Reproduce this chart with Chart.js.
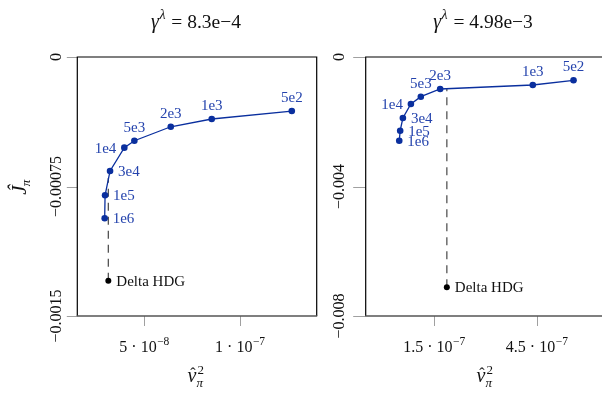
<!DOCTYPE html>
<html><head><meta charset="utf-8">
<script src="https://cdn.jsdelivr.net/npm/chart.js@4/dist/chart.umd.min.js"></script>
<style>
html,body{margin:0;padding:0;width:602px;height:396px;overflow:hidden;background:#fff}
canvas{position:absolute;left:0;top:0}
</style></head><body>
<canvas id="c1" width="602" height="396"></canvas>
<canvas id="c2" width="700" height="396"></canvas>
<script>
// ---- data ----
const runLabels = ['5e2','1e3','2e3','5e3','1e4','3e4','1e5','1e6'];

const leftTitleValue = '8.3e\u22124';
const leftX = [1.270e-7, 8.52e-8, 6.38e-8, 4.48e-8, 3.955e-8, 3.21e-8, 2.95e-8, 2.93e-8];
const leftY = [-3.13e-4, -3.59e-4, -4.04e-4, -4.85e-4, -5.25e-4, -6.60e-4, -8.01e-4, -9.34e-4];
const leftDelta = [3.12e-8, -1.296e-3];
const leftDashTop = -7.01e-4;
const leftYTicks = [0, -0.00075, -0.0015];
const leftYTickLabels = ['0', '\u22120.00075', '\u22120.0015'];
const leftXTicks = [5e-8, 1e-7];
const leftXTickLabels = [['5', '\u22128'], ['1', '\u22127']];

const rightTitleValue = '4.98e\u22123';
const rightX = [5.57e-7, 4.38e-7, 1.675e-7, 1.11e-7, 0.82e-7, 0.586e-7, 0.507e-7, 0.48e-7];
const rightY = [-7.20e-4, -8.65e-4, -9.88e-4, -1.226e-3, -1.452e-3, -1.884e-3, -2.276e-3, -2.585e-3];
const rightDelta = [1.87e-7, -7.113e-3];
const rightDashTop = -9.79e-4;
const rightYTicks = [0, -0.004, -0.008];
const rightYTickLabels = ['0', '\u22120.004', '\u22120.008'];
const rightXTicks = [1.5e-7, 4.5e-7];
const rightXTickLabels = [['1.5', '\u22127'], ['4.5', '\u22127']];

// ---- styles ----
const BLUE = '#0a2f9e';
const LBLUE = '#2443ad';
const SERIF = '"Liberation Serif", "DejaVu Serif", serif';
const leftPlace = ['above','above','above','above','left','right','right','right'];
const rightPlace = ['above','above','above','above','left','right','right','right'];

function drawParts(ctx, parts, x, y) {
  let w = 0;
  parts.forEach(p => { ctx.font = p.f; p.w = ctx.measureText(p.t).width; w += p.w + (p.dx || 0); });
  let cx = x - w / 2;
  ctx.textAlign = 'left';
  parts.forEach(p => { ctx.font = p.f; cx += (p.dx || 0); ctx.fillText(p.t, cx, y + (p.dy || 0)); cx += p.w; });
}

function makeChart(id, canvasW, cfg) {
  const pts = cfg.xs.map((x, i) => ({x: x, y: cfg.ys[i]}));
  const decor = {
    id: 'decor' + id,
    beforeDatasetsDraw(chart) {
      const ctx = chart.ctx, a = chart.chartArea, sx = chart.scales.x, sy = chart.scales.y;
      ctx.save();
      // ticks
      ctx.strokeStyle = '#a0a0a0'; ctx.lineWidth = 1;
      cfg.yTicks.forEach(v => {
        const py = Math.round(sy.getPixelForValue(v)) + 0.5;
        ctx.beginPath(); ctx.moveTo(a.left - cfg.tickLen, py); ctx.lineTo(a.left, py); ctx.stroke();
      });
      cfg.xTicks.forEach(v => {
        const px = Math.round(sx.getPixelForValue(v)) + 0.5;
        ctx.beginPath(); ctx.moveTo(px, a.bottom); ctx.lineTo(px, a.bottom + 10); ctx.stroke();
      });
      // frame
      ctx.strokeStyle = '#000'; ctx.lineWidth = 1.2;
      ctx.beginPath();
      ctx.moveTo(a.left, a.bottom); ctx.lineTo(a.left, a.top); ctx.lineTo(a.right, a.top); ctx.lineTo(a.right, a.bottom);
      ctx.stroke();
      ctx.strokeStyle = '#555'; ctx.lineWidth = 1.6;
      ctx.beginPath(); ctx.moveTo(a.left - 0.5, a.bottom); ctx.lineTo(a.right + 0.5, a.bottom); ctx.stroke();
      // y tick labels (rotated)
      ctx.fillStyle = '#111';
      ctx.font = '16px ' + SERIF;
      cfg.yTicks.forEach((v, i) => {
        const py = sy.getPixelForValue(v);
        ctx.save();
        ctx.translate(cfg.yLabelBase, py);
        ctx.rotate(-Math.PI / 2);
        ctx.textAlign = 'center'; ctx.textBaseline = 'alphabetic';
        ctx.fillText(cfg.yTickLabels[i], 0, 0);
        ctx.restore();
      });
      // x tick labels
      ctx.textBaseline = 'alphabetic';
      cfg.xTicks.forEach((v, i) => {
        const px = sx.getPixelForValue(v);
        const lab = cfg.xTickLabels[i];
        drawParts(ctx, [
          {t: lab[0] + ' \u00b7 10', f: '16px ' + SERIF},
          {t: lab[1], f: '11.5px ' + SERIF, dy: -7, dx: 0.5}
        ], px, 351.5);
      });
      // title
      drawParts(ctx, [
        {t: '\u03b3', f: 'italic 20px ' + SERIF},
        {t: '\u03bb', f: 'italic 14px ' + SERIF, dy: -9, dx: 0.5},
        {t: ' = ' + cfg.title, f: '19.5px ' + SERIF, dx: 1}
      ], cfg.titleX, 28);
      // x axis title: v-hat squared, sub pi
      {
        const cx = cfg.xTitleX, by = 381.5;
        ctx.font = 'italic 20px ' + SERIF;
        const vw = ctx.measureText('v').width;
        const x0 = cx - (vw + 8) / 2;
        ctx.textAlign = 'left';
        ctx.fillText('v', x0, by);
        ctx.font = '16px ' + SERIF;
        ctx.textAlign = 'center';
        ctx.fillText('\u02c6', x0 + vw / 2 + 1, by - 3);
        ctx.textAlign = 'left';
        ctx.font = '13px ' + SERIF;
        ctx.fillText('2', x0 + vw + 1, by - 8);
        ctx.font = 'italic 13px ' + SERIF;
        ctx.fillText('\u03c0', x0 + vw, by + 5);
      }
      // y axis title (only left)
      if (cfg.yTitle) {
        ctx.save();
        ctx.translate(26, 186);
        ctx.rotate(-Math.PI / 2);
        ctx.font = 'italic 21px ' + SERIF;
        const jw = ctx.measureText('\u0134').width;
        const x0 = -(jw + 8) / 2;
        ctx.textAlign = 'left';
        ctx.fillText('\u0134', x0, 0);
        ctx.font = 'italic 13px ' + SERIF;
        ctx.fillText('\u03c0', x0 + jw - 1, 4);
        ctx.restore();
      }
      ctx.restore();
    },
    afterDatasetsDraw(chart) {
      const ctx = chart.ctx, sx = chart.scales.x, sy = chart.scales.y;
      ctx.save();
      ctx.font = '15px ' + SERIF;
      ctx.fillStyle = LBLUE;
      cfg.xs.forEach((x, i) => {
        const px = sx.getPixelForValue(x), py = sy.getPixelForValue(cfg.ys[i]);
        const pl = cfg.place[i];
        if (pl === 'above') { ctx.textAlign = 'center'; ctx.textBaseline = 'alphabetic'; ctx.fillText(runLabels[i], px, py - 9); }
        else if (pl === 'left') { ctx.textAlign = 'right'; ctx.textBaseline = 'middle'; ctx.fillText(runLabels[i], px - 8, py + 1); }
        else { ctx.textAlign = 'left'; ctx.textBaseline = 'middle'; ctx.fillText(runLabels[i], px + 8, py + 1); }
      });
      ctx.fillStyle = '#111';
      ctx.textAlign = 'left'; ctx.textBaseline = 'middle';
      ctx.fillText('Delta HDG', sx.getPixelForValue(cfg.delta[0]) + 8, sy.getPixelForValue(cfg.delta[1]) + 1);
      ctx.restore();
    }
  };
  return new Chart(document.getElementById(id), {
    type: 'scatter',
    data: {datasets: [
      {data: pts, showLine: true, borderColor: BLUE, backgroundColor: BLUE, pointBorderColor: BLUE,
       pointBackgroundColor: BLUE, pointRadius: 3.3, pointBorderWidth: 0, borderWidth: 1.3, tension: 0},
      {data: [{x: cfg.delta[0], y: cfg.delta[1]}, {x: cfg.delta[0], y: cfg.dashTop}], showLine: true,
       borderColor: '#555', borderDash: [8, 6], borderWidth: 1.3, pointRadius: [3, 0], pointBorderWidth: 0,
       pointBackgroundColor: '#000', backgroundColor: '#000'}
    ]},
    options: {
      responsive: false, animation: false, devicePixelRatio: 1, events: [],
      layout: {padding: {left: cfg.area.l, right: canvasW - cfg.area.r, top: cfg.area.t, bottom: 396 - cfg.area.b}},
      scales: {
        x: {type: 'linear', min: cfg.xMin, max: cfg.xMax, display: false},
        y: {type: 'linear', min: cfg.yMin, max: cfg.yMax, display: false}
      },
      plugins: {legend: {display: false}, tooltip: {enabled: false}, title: {display: false}}
    },
    plugins: [decor]
  });
}

makeChart('c1', 602, {
  xs: leftX, ys: leftY, delta: leftDelta, dashTop: leftDashTop, place: leftPlace,
  xMin: 1.5e-8, xMax: 1.4e-7, yMin: -0.0015, yMax: 0,
  yTicks: leftYTicks, yTickLabels: leftYTickLabels, xTicks: leftXTicks, xTickLabels: leftXTickLabels,
  area: {l: 77.3, r: 316.7, t: 57, b: 316}, tickLen: 10.5, yLabelBase: 60.5,
  title: leftTitleValue, titleX: 196, xTitleX: 196, yTitle: true
});
makeChart('c2', 700, {
  xs: rightX, ys: rightY, delta: rightDelta, dashTop: rightDashTop, place: rightPlace,
  xMin: -0.5e-7, xMax: 7.5e-7, yMin: -0.008, yMax: 0,
  yTicks: rightYTicks, yTickLabels: rightYTickLabels, xTicks: rightXTicks, xTickLabels: rightXTickLabels,
  area: {l: 365.7, r: 639.6, t: 57, b: 316}, tickLen: 12.5, yLabelBase: 343.5,
  title: rightTitleValue, titleX: 483, xTitleX: 485, yTitle: false
});
</script>
</body></html>
